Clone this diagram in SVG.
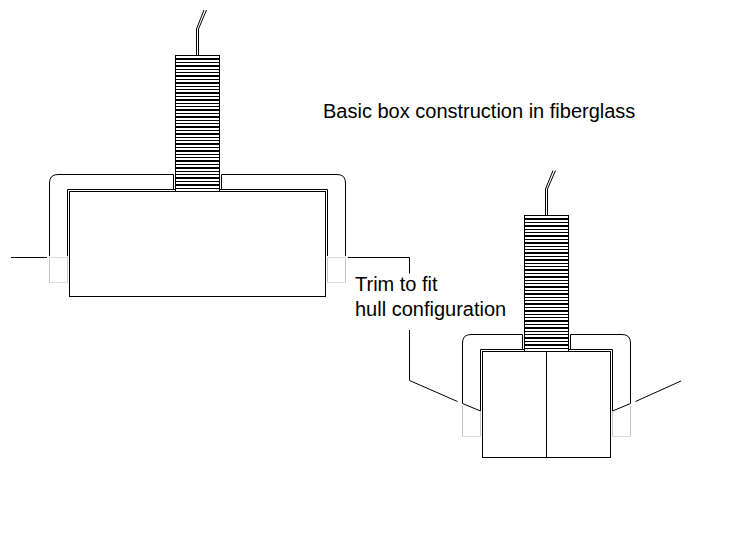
<svg xmlns="http://www.w3.org/2000/svg" width="750" height="550" viewBox="0 0 750 550">
<style>
.l{fill:none;stroke:#000;stroke-width:1}
.g{fill:none;stroke:#c4c4c4;stroke-width:1}
.d{fill:none;stroke:#dcdcdc;stroke-width:1}
.t{font-family:"Liberation Sans",Arial,sans-serif;font-size:20px;fill:#000}
</style>
<defs>
<pattern id="hatch" width="44" height="17" patternUnits="userSpaceOnUse" y="55"><rect width="44" height="17" fill="#fff"/><path d="M0 0h44v1H0zM0 3h44v2H0zM0 7h44v1H0zM0 10h44v2H0zM0 14h44v1H0z" fill="#000"/></pattern>
<pattern id="hatch2" width="44" height="17" patternUnits="userSpaceOnUse" y="215"><rect width="44" height="17" fill="#fff"/><path d="M0 0h44v1H0zM0 3h44v2H0zM0 7h44v1H0zM0 10h44v2H0zM0 14h44v1H0z" fill="#000"/></pattern>
</defs>
<rect width="750" height="550" fill="#fff"/>
<g id="box-left">
<rect class="l" x="69.5" y="191.5" width="256" height="105"/>
<path class="l" d="M67.5 256V189.5H327.5V256"/>
</g>
<g id="stack-left">
<rect x="175.5" y="55.5" width="44" height="136" fill="url(#hatch)" stroke="#000"/>
<path class="l" d="M196.500 55V29L204 10M198.500 55V29L206.500 10"/>
</g>
<g id="flange-left">
<path class="l" d="M49.500 256V183Q49.500 174.500 58 174.500H173.500V189.500"/>
<path class="l" d="M221.500 189.500V174.500H337Q345.500 174.500 345.500 183V256"/>
<path class="g" d="M49.500 257V282.500M67.500 257V282.500M327.500 257V282.500M345.500 257V282.500"/>
<path class="d" d="M49.500 257.500H67.500M49.500 282.500H67.500M327.500 257.500H345.500M327.500 282.500H345.500"/>
</g>
<g id="box-right">
<rect class="l" x="482.500" y="351.500" width="128" height="106"/>
<path class="l" d="M546.500 351.500V457.500M480.500 411V349.500H612.500V411"/>
</g>
<g id="stack-right">
<rect x="524.500" y="215.500" width="44" height="136" fill="url(#hatch2)" stroke="#000"/>
<path class="l" d="M545.500 215V189L553 170.500M547.500 215V189L555.500 170.500"/>
</g>
<g id="flange-right">
<path class="l" d="M480.500 411L462.500 403.500V343Q462.500 334.500 471 334.500H522.500V349.500"/>
<path class="l" d="M570.500 349.500V334.500H622Q630.500 334.500 630.500 343V403.500L612.500 411"/>
<path class="g" d="M462.500 406V436.500M480.500 412V436.500M612.500 412V436.500M630.500 406V436.500"/>
<path class="d" d="M462.500 436.500H480.500M612.500 436.500H630.500"/>
</g>
<g id="connectors">
<path class="l" d="M11 257.500H47M348 257.500H409.500V273.500M409.500 330V380.500L457.500 401.500M635.500 401.500L681 381"/>
</g>
<g id="labels">
<text class="t" x="323" y="118">Basic box construction in fiberglass</text>
<text class="t" x="355" y="291">Trim to fit</text>
<text class="t" x="355" y="316">hull configuration</text>
</g>
</svg>
